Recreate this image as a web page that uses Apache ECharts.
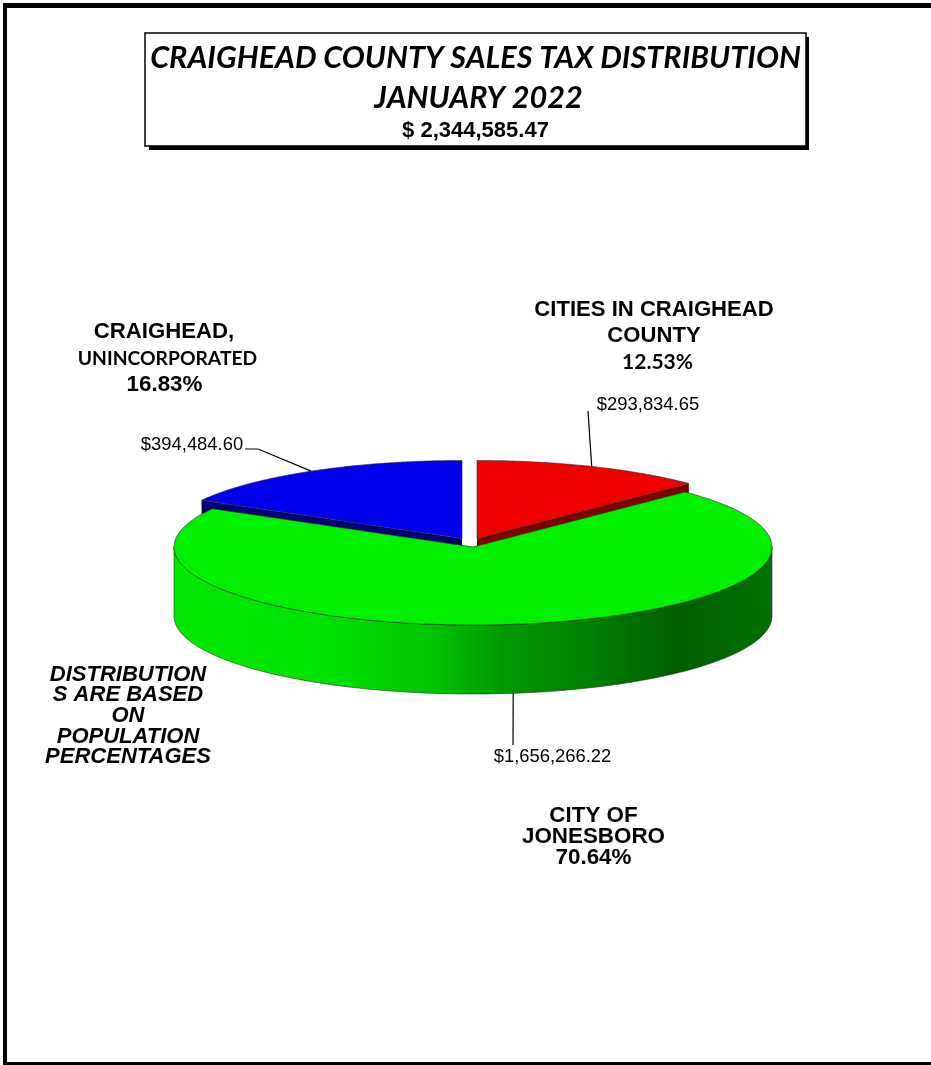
<!DOCTYPE html>
<html>
<head>
<meta charset="utf-8">
<style>html,body{margin:0;padding:0;background:#fff}#chart{width:931px;height:1065px}</style>
<script src="https://cdn.jsdelivr.net/npm/echarts@6/dist/echarts.min.js"></script>
</head>
<body>
<div id="chart"></div>
<script>
// ---- data ----
const categories = ['CITIES IN CRAIGHEAD COUNTY', 'CITY OF JONESBORO', 'CRAIGHEAD, UNINCORPORATED'];
const amounts = [293834.65, 1656266.22, 394484.60];
const amountLabels = ['$293,834.65', '$1,656,266.22', '$394,484.60'];
const titleLines = ['CRAIGHEAD COUNTY SALES TAX DISTRIBUTION', 'JANUARY 2022'];
const totalLabel = '$ 2,344,585.47';
const noteLines = 'DISTRIBUTION\nS ARE BASED\nON\nPOPULATION\nPERCENTAGES';

// ---- layout / style ----
const CX = 473, CY = 547, RX = 299, RY = 78, DEPTH = 69;
const explode = [[4, -8.5], [0, 0], [-11, -8.5]];
const topColors = ['#f00000', '#00f000', '#0000f0'];
const sideColors = ['#800000', '#006000', '#000070'];
const drawOrder = [0, 2, 1];          // exploded slices sit behind the large one
const total = amounts.reduce((a, b) => a + b, 0);

const rim = (ox, oy, deg) => {
  const t = deg * Math.PI / 180;
  return [CX + ox + RX * Math.sin(t), CY + oy - RY * Math.cos(t)];
};
const arcPts = (ox, oy, a, b) => {
  const pts = [], n = Math.ceil(Math.abs(b - a) * 2);
  for (let i = 0; i <= n; i++) pts.push(rim(ox, oy, a + (b - a) * i / n));
  return pts;
};

let cum = 0;
const angles = amounts.map(v => { const s = cum; cum += v / total * 360; return [s, cum]; });
const seriesData = drawOrder.map(i => ({ name: categories[i], value: [amounts[i], angles[i][0], angles[i][1], i] }));

const wallGradient = new echarts.graphic.LinearGradient(CX - RX, 0, CX + RX, 0, [
  { offset: 0, color: '#00e800' },
  { offset: 0.24, color: '#00e400' },
  { offset: 0.42, color: '#00c800' },
  { offset: 0.55, color: '#009800' },
  { offset: 0.68, color: '#008400' },
  { offset: 0.84, color: '#005f00' },
  { offset: 1, color: '#007000' }
], true);

function renderSlice(params, api) {
  const a = api.value(1), b = api.value(2), i = api.value(3);
  const [ox, oy] = explode[i];
  const apex = [CX + ox, CY + oy];
  const children = [];
  const outline = { stroke: '#2a2a2a', lineWidth: 0.6 };

  // radial cut faces
  [a, b].forEach(deg => {
    const p = rim(ox, oy, deg);
    children.push({
      type: 'polygon',
      shape: { points: [apex, p, [p[0], p[1] + DEPTH], [apex[0], apex[1] + DEPTH]] },
      style: { fill: sideColors[i] }, silent: true
    });
  });
  // front outer wall (only the part of the arc facing the viewer)
  const w0 = Math.max(a, 90), w1 = Math.min(b, 270);
  if (w1 > w0) {
    const front = arcPts(ox, oy, w0, w1);
    const lower = front.map(p => [p[0], p[1] + DEPTH]).reverse();
    children.push({
      type: 'polygon',
      shape: { points: front.concat(lower) },
      style: { fill: wallGradient, ...outline }, silent: true
    });
  }
  // top face
  children.push({
    type: 'polygon',
    shape: { points: [apex].concat(arcPts(ox, oy, a, b)) },
    style: { fill: topColors[i], ...outline }, silent: true
  });
  return { type: 'group', children };
}

// leader lines, anchored on each slice's mid-angle rim point
const leaderEnds = [[[588, 411]], [[513, 745]], [[258, 449], [245, 449]]];
const leaders = categories.map((c, i) => {
  const mid = (angles[i][0] + angles[i][1]) / 2;
  const p = rim(explode[i][0], explode[i][1], mid);
  if (mid > 90 && mid < 270) p[1] += DEPTH;
  return {
    type: 'polyline', z: 5,
    shape: { points: [p].concat(leaderEnds[i]) },
    style: { stroke: '#000', lineWidth: 1.2, fill: null }, silent: true
  };
});

const txt = (text, x, y, font, extra) => ({
  type: 'text', z: 6, x, y, silent: true,
  style: Object.assign({ text, font, fill: '#000', align: 'center', verticalAlign: 'middle' }, extra || {})
});
const ARIAL = '"Liberation Sans"';
const LATO = 'Lato';

const frame = (x, y, width, height) => ({ type: 'rect', z: 1, silent: true, shape: { x, y, width, height }, style: { fill: '#000' } });

const graphics = [
  // outer frame (its right edge runs off the picture)
  frame(3, 3, 928, 5), frame(3, 3, 4, 1062), frame(3, 1062, 928, 3),
  // title box
  { type: 'rect', z: 1, silent: true, shape: { x: 149, y: 37, width: 660, height: 113 }, style: { fill: '#000' } },
  { type: 'rect', z: 2, silent: true, shape: { x: 145, y: 33, width: 661, height: 113 }, style: { fill: '#fff', stroke: '#000', lineWidth: 1.5 } },
  txt(titleLines[0], 475.5, 58, `italic bold 30.6px ${LATO}`),
  txt(titleLines[1], 478.5, 98, `italic bold 30.6px ${LATO}`),
  txt(totalLabel, 475.5, 131, `bold 22px ${ARIAL}`),
  // slice titles
  txt('CITIES IN CRAIGHEAD\nCOUNTY', 654, 323, `bold 22.1px ${ARIAL}`, { lineHeight: 26 }),
  txt('12.53%', 657.5, 362, `bold 21px ${LATO}`),
  txt('CRAIGHEAD,', 164, 332, `bold 22.2px ${ARIAL}`),
  txt('UNINCORPORATED', 167.5, 359, `bold 19.3px ${LATO}`),
  txt('16.83%', 164.5, 385, `bold 22.4px ${ARIAL}`),
  txt('CITY OF\nJONESBORO\n70.64%', 593.5, 837, `bold 22.4px ${ARIAL}`, { lineHeight: 20.8 }),
  // note
  txt(noteLines, 128, 716, `italic bold 22px ${ARIAL}`, { lineHeight: 20.6 }),
  // amounts
  txt(amountLabels[0], 648, 405, `18.4px ${ARIAL}`),
  txt(amountLabels[1], 552.5, 757, `18.4px ${ARIAL}`),
  txt(amountLabels[2], 192, 445, `18.4px ${ARIAL}`)
].concat(leaders);

const chart = echarts.init(document.getElementById('chart'), null, { renderer: 'canvas' });
chart.setOption({
  animation: false,
  backgroundColor: '#fff',
  graphic: { elements: graphics },
  series: [{
    type: 'custom',
    coordinateSystem: 'none',
    renderItem: renderSlice,
    data: seriesData,
    z: 3,
    silent: true
  }]
});
</script>
</body>
</html>
